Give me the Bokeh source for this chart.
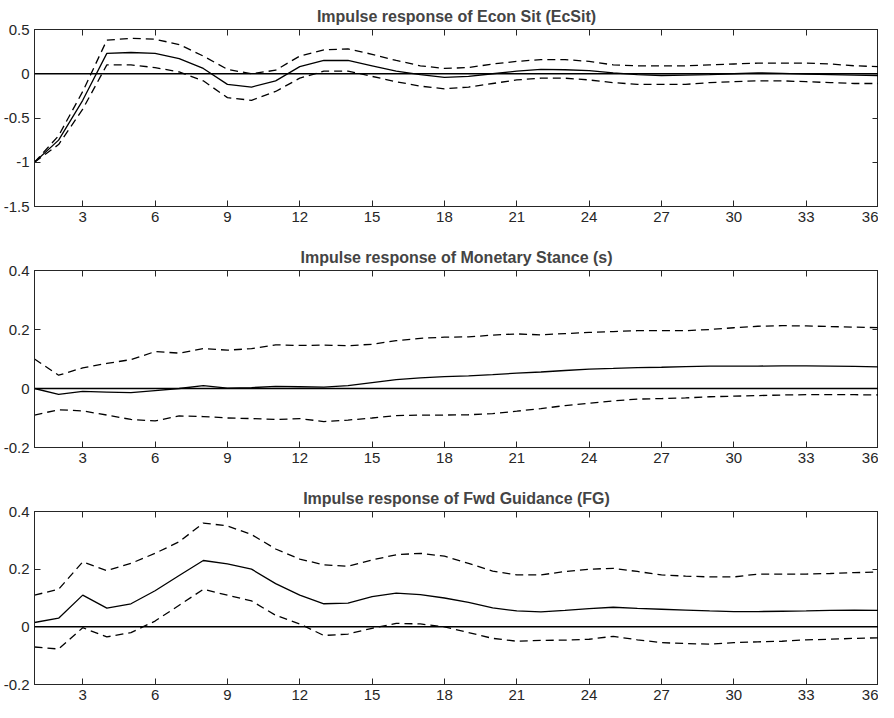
from bokeh.plotting import figure
from bokeh.layouts import column
from bokeh.models import Span, LinearAxis, FixedTicker, Range1d, CustomJSTickFormatter
from bokeh.embed import file_html
from bokeh.resources import INLINE

x = list(range(1, 37))

ecsit_mid = [-1, -0.75, -0.3, 0.23, 0.24, 0.23, 0.17, 0.06, -0.12, -0.15, -0.08, 0.08, 0.15, 0.15, 0.09, 0.03, -0.01, -0.04, -0.03, 0.0, 0.03, 0.05, 0.045, 0.035, 0.01, -0.01, -0.02, -0.015, -0.01, 0.0, 0.01, 0.005, -0.005, -0.01, -0.015, -0.02]
ecsit_up = [-1, -0.7, -0.2, 0.38, 0.4, 0.39, 0.33, 0.2, 0.05, 0.0, 0.04, 0.2, 0.27, 0.28, 0.22, 0.15, 0.09, 0.06, 0.07, 0.11, 0.14, 0.16, 0.16, 0.14, 0.1, 0.09, 0.09, 0.09, 0.1, 0.11, 0.12, 0.12, 0.12, 0.11, 0.09, 0.08]
ecsit_lo = [-1, -0.8, -0.4, 0.1, 0.1, 0.07, 0.02, -0.08, -0.27, -0.3, -0.2, -0.05, 0.03, 0.03, -0.03, -0.09, -0.14, -0.17, -0.15, -0.11, -0.07, -0.05, -0.05, -0.07, -0.1, -0.12, -0.12, -0.12, -0.1, -0.09, -0.08, -0.08, -0.09, -0.1, -0.11, -0.11]

s_mid = [0, -0.02, -0.01, -0.012, -0.014, -0.007, 0.0, 0.01, 0.001, 0.003, 0.007, 0.006, 0.005, 0.01, 0.02, 0.03, 0.036, 0.04, 0.043, 0.047, 0.052, 0.056, 0.061, 0.066, 0.068, 0.071, 0.072, 0.074, 0.076, 0.076, 0.076, 0.077, 0.077, 0.076, 0.075, 0.073]
s_up = [0.1, 0.045, 0.07, 0.085, 0.098, 0.125, 0.12, 0.135, 0.13, 0.135, 0.148, 0.146, 0.147, 0.145, 0.15, 0.162, 0.17, 0.174, 0.175, 0.181, 0.185, 0.182, 0.186, 0.19, 0.193, 0.196, 0.196, 0.196, 0.2, 0.206, 0.211, 0.213, 0.212, 0.21, 0.208, 0.206]
s_lo = [-0.09, -0.072, -0.076, -0.09, -0.105, -0.11, -0.093, -0.095, -0.1, -0.102, -0.105, -0.102, -0.112, -0.107, -0.1, -0.092, -0.09, -0.09, -0.089, -0.085, -0.077, -0.068, -0.058, -0.05, -0.042, -0.036, -0.034, -0.032, -0.028, -0.026, -0.024, -0.022, -0.021, -0.021, -0.021, -0.022]

fg_mid = [0.015, 0.03, 0.11, 0.065, 0.08, 0.125, 0.178, 0.23, 0.218, 0.2, 0.15, 0.11, 0.08, 0.082, 0.105, 0.117, 0.112, 0.1, 0.085, 0.066, 0.055, 0.052, 0.057, 0.063, 0.068, 0.064, 0.061, 0.058, 0.055, 0.053, 0.053, 0.054, 0.055, 0.057, 0.058, 0.057]
fg_up = [0.11, 0.13, 0.225, 0.195, 0.22, 0.255, 0.295, 0.36, 0.35, 0.32, 0.27, 0.235, 0.215, 0.21, 0.232, 0.25, 0.255, 0.245, 0.22, 0.193, 0.18, 0.18, 0.192, 0.2, 0.203, 0.192, 0.18, 0.176, 0.173, 0.173, 0.183, 0.183, 0.183, 0.185, 0.188, 0.19]
fg_lo = [-0.07, -0.077, -0.003, -0.035, -0.02, 0.02, 0.075, 0.13, 0.11, 0.09, 0.04, 0.01, -0.03, -0.025, -0.005, 0.012, 0.01, 0.0, -0.02, -0.04, -0.05, -0.047, -0.046, -0.043, -0.033, -0.045, -0.055, -0.058, -0.06, -0.055, -0.052, -0.05, -0.045, -0.043, -0.04, -0.038]

x_ticks = [3, 6, 9, 12, 15, 18, 21, 24, 27, 30, 33, 36]
panels = [
    ("Impulse response of Econ Sit (EcSit)", ecsit_mid, ecsit_up, ecsit_lo, (-1.5, 0.5), [-1.5, -1, -0.5, 0, 0.5], 241, 35),
    ("Impulse response of Monetary Stance (s)", s_mid, s_up, s_lo, (-0.2, 0.4), [-0.2, 0, 0.2, 0.4], 241, 35),
    ("Impulse response of Fwd Guidance (FG)", fg_mid, fg_up, fg_lo, (-0.2, 0.4), [-0.2, 0, 0.2, 0.4], 220, 0),
]
FONT = "Liberation Sans"

def style_axis(ax, labels=True):
    ax.major_tick_in = 6
    ax.major_tick_out = 0
    ax.minor_tick_in = 0
    ax.minor_tick_out = 0
    ax.axis_line_color = "#262626"
    ax.major_tick_line_color = "#262626"
    ax.major_label_text_font = FONT
    ax.major_label_text_font_size = "15px"
    ax.major_label_text_color = "#262626"
    ax.major_label_standoff = 5
    if labels:
        ax.formatter = CustomJSTickFormatter(code="return String(tick);")
    else:
        ax.formatter = CustomJSTickFormatter(code="return '';")
        ax.major_label_standoff = 0

figs = []
for title, mid, up, lo, yr, yt, h, bb in panels:
    p = figure(width=878, height=h, output_backend="svg", toolbar_location=None,
               x_range=Range1d(1, 36), y_range=Range1d(*yr),
               min_border_left=0, min_border_right=0, min_border_top=28, min_border_bottom=bb)
    p.title.text = title
    p.title.align = "center"
    p.title.text_font = FONT
    p.title.text_font_size = "16px"
    p.title.text_font_style = "bold"
    p.title.standoff = 10
    p.grid.visible = False
    p.outline_line_color = "#262626"
    p.xaxis.ticker = FixedTicker(ticks=x_ticks)
    p.yaxis.ticker = FixedTicker(ticks=yt)
    style_axis(p.xaxis[0]); style_axis(p.yaxis[0])
    top = LinearAxis(ticker=FixedTicker(ticks=x_ticks)); style_axis(top, False)
    right = LinearAxis(ticker=FixedTicker(ticks=yt)); style_axis(right, False)
    p.add_layout(top, "above"); p.add_layout(right, "right")
    p.add_layout(Span(location=0, dimension="width", line_color="black", line_width=1.5))
    p.line(x, up, line_color="black", line_width=1.3, line_dash="8 5")
    p.line(x, lo, line_color="black", line_width=1.3, line_dash="8 5")
    p.line(x, mid, line_color="black", line_width=1.3)
    figs.append(p)

layout = column(*figs, spacing=0)
open("out.html", "w").write(file_html(layout, INLINE))
